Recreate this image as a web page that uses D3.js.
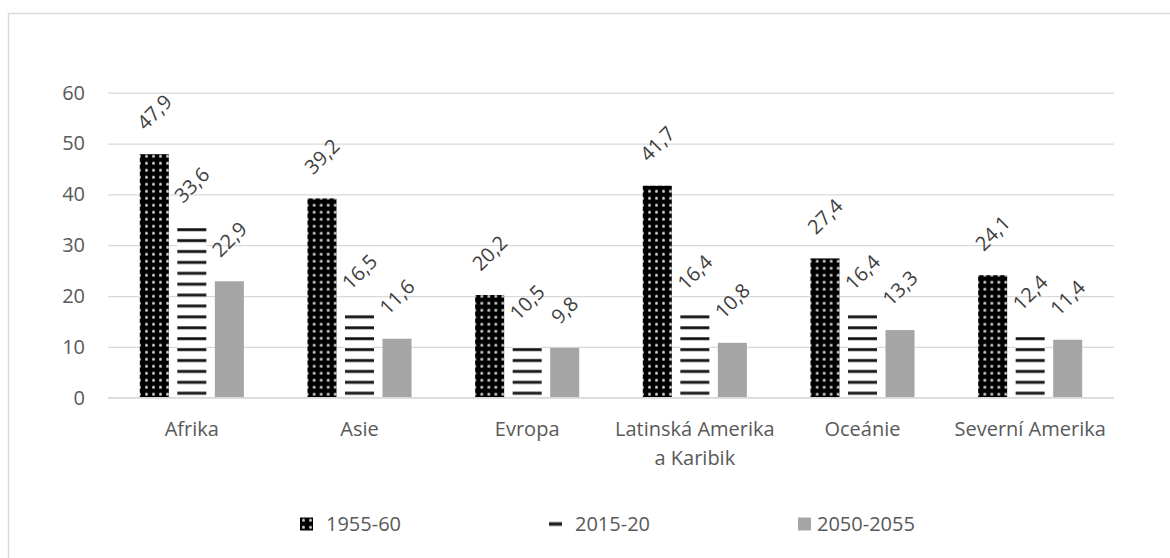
<!DOCTYPE html>
<html><head><meta charset="utf-8">
<script src="https://cdn.jsdelivr.net/npm/d3@7"></script>
<style>
body{margin:0;background:#fff}
svg text{font-family:"Open Sans",sans-serif}
</style>
</head><body>
<svg id="c" width="1170" height="558"></svg>
<script>
// ---- data ----
const categories = ["Afrika","Asie","Evropa","Latinská Amerika a Karibik","Oceánie","Severní Amerika"];
const seriesNames = ["1955-60","2015-20","2050-2055"];
const values1955 = [47.9,39.2,20.2,41.7,27.4,24.1];
const values2015 = [33.6,16.5,10.5,16.4,16.4,12.4];
const values2050 = [22.9,11.6,9.8,10.8,13.3,11.4];
const yTicks = [0,10,20,30,40,50,60];

const seriesValues = [values1955, values2015, values2050];
const fs = 20;
const svg = d3.select("#c");

const plot = {left:108, right:1114, top:92.7, bottom:397.7};
const y = d3.scaleLinear().domain([0,60]).range([plot.bottom, plot.top]);
const x0 = d3.scaleBand().domain(categories).range([plot.left, plot.right]).padding(0);
const outer = 31.8;
const x1 = d3.scaleBand().domain(seriesNames).range([outer, x0.step()-outer]).paddingInner(0.227).paddingOuter(0);

// ---- patterns ----
const defs = svg.append("defs");
const dots = defs.append("pattern").attr("id","dots").attr("patternUnits","userSpaceOnUse")
  .attr("width",7).attr("height",7).attr("x",0).attr("y",plot.bottom);
dots.append("rect").attr("width",7).attr("height",7).attr("fill","#000");
dots.append("circle").attr("cx",3.5).attr("cy",3.5).attr("r",1.5).attr("fill","#d0d0d0");

const stripes = defs.append("pattern").attr("id","stripes").attr("patternUnits","userSpaceOnUse")
  .attr("width",10).attr("height",10.9).attr("x",0).attr("y",plot.bottom-6.2);
stripes.append("rect").attr("width",10).attr("height",10.9).attr("fill","#fff");
stripes.append("rect").attr("y",0).attr("width",10).attr("height",3.4).attr("fill","#7a7a7a");
stripes.append("rect").attr("y",0.6).attr("width",10).attr("height",2.2).attr("fill","#111");

const stripesLeg = defs.append("pattern").attr("id","stripesLeg").attr("patternUnits","objectBoundingBox")
  .attr("patternContentUnits","objectBoundingBox").attr("width",1).attr("height",1);
stripesLeg.append("rect").attr("width",1).attr("height",1).attr("fill","#fff");
stripesLeg.append("rect").attr("y",0.36).attr("width",1).attr("height",0.28).attr("fill","#222");

const fills = ["url(#dots)","url(#stripes)","#a5a5a5"];

// ---- border ----
svg.append("rect").attr("x",8.5).attr("y",13.5).attr("width",1180).attr("height",570)
  .attr("fill","none").attr("stroke","#d9d9d9").attr("stroke-width",1.5);

// ---- grid ----
const grid = svg.append("g").attr("transform",`translate(${plot.left},0)`)
  .call(d3.axisLeft(y).tickValues(yTicks).tickSize(-(plot.right-plot.left)).tickFormat(""));
grid.select(".domain").remove();
grid.selectAll("line").attr("stroke","#d9d9d9").attr("stroke-width",1.3);

// ---- y axis labels ----
const yAx = svg.append("g").attr("transform",`translate(${plot.left},0)`)
  .call(d3.axisLeft(y).tickValues(yTicks).tickSize(0).tickPadding(23).tickFormat(d3.format("d")));
yAx.select(".domain").remove();
yAx.selectAll("text").attr("font-size",fs).attr("fill","#595959").attr("font-family",'"Open Sans",sans-serif');

// ---- bars ----
const groups = svg.append("g").selectAll("g").data(categories).join("g")
  .attr("transform",d=>`translate(${x0(d)},0)`);

const barData = (c,ci) => seriesNames.map((s,si)=>({s,si,v:seriesValues[si][ci]}));
groups.each(function(c,ci){
  const g = d3.select(this);
  const bd = barData(c,ci);
  g.selectAll("rect").data(bd).join("rect")
    .attr("x",d=>x1(d.s)).attr("width",x1.bandwidth())
    .attr("y",d=>y(d.v)).attr("height",d=>y(0)-y(d.v))
    .attr("fill",d=>fills[d.si]);
  g.selectAll("text.lbl").data(bd).join("text").attr("class","lbl")
    .attr("font-size",fs).attr("fill","#404040").attr("text-anchor","middle").attr("dy","0.357em")
    .text(d=>d.v.toFixed(1).replace(".",","))
    .each(function(d){
      const w = this.getComputedTextLength();
      const half = (w + 0.714*fs)/(2*Math.SQRT2);
      const cx = x1(d.s)+x1.bandwidth()/2;
      const cy = y(d.v) - 23 - half;
      d3.select(this).attr("transform",`translate(${cx},${cy}) rotate(-45)`);
    });
});

// zero axis line on top
svg.append("line").attr("x1",plot.left).attr("x2",plot.right).attr("y1",y(0)).attr("y2",y(0))
  .attr("stroke","#d9d9d9").attr("stroke-width",1.3);

// ---- x axis labels ----
const xAx = svg.append("g").attr("transform",`translate(0,${plot.bottom})`)
  .call(d3.axisBottom(x0).tickSize(0).tickPadding(24));
xAx.select(".domain").remove();
xAx.selectAll("text").attr("font-size",fs).attr("fill","#595959").attr("font-family",'"Open Sans",sans-serif')
  .each(function(d){
    const t = d3.select(this);
    const words = d.split(" ");
    const maxW = x0.step();
    t.text(null);
    let line = [];
    let ts = t.append("tspan").attr("x",0).attr("dy","0.71em");
    for (const w of words){
      line.push(w);
      ts.text(line.join(" "));
      if (ts.node().getComputedTextLength() > maxW && line.length>1){
        line.pop(); ts.text(line.join(" "));
        line=[w];
        ts = t.append("tspan").attr("x",0).attr("dy",29).text(w);
      }
    }
  });
xAx.selectAll("text").attr("dy",null);

// ---- legend ----
const lg = d3.scaleBand().domain(seriesNames).range([300,1047]);
const leg = svg.append("g").selectAll("g").data(seriesNames).join("g")
  .attr("transform",d=>`translate(${lg(d)},0)`);
leg.append("rect").attr("x",0).attr("y",517.5).attr("width",13).attr("height",13)
  .attr("fill",(d,i)=> i===0 ? "url(#dots)" : i===1 ? "url(#stripesLeg)" : "#a5a5a5");
leg.append("text").attr("x",(d,i)=> i<2 ? 26 : 19).attr("y",531)
  .attr("font-size",fs).attr("fill","#595959").text(d=>d);
</script>
</body></html>
